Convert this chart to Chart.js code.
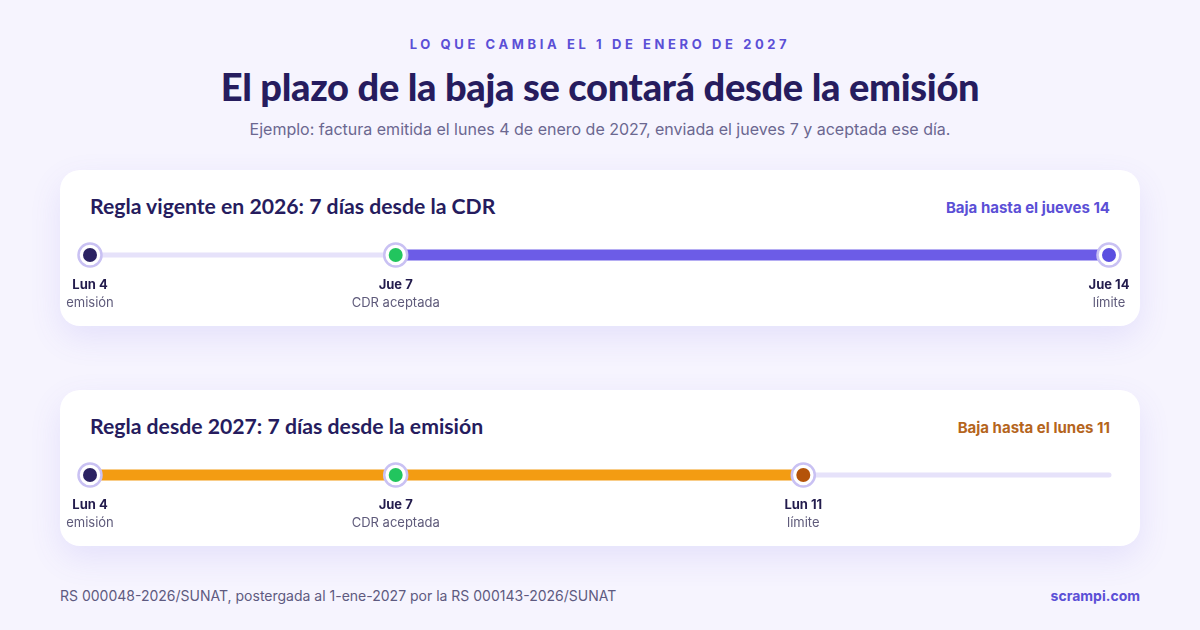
<!DOCTYPE html>
<html lang="es">
<head>
<meta charset="utf-8">
<title>El plazo de la baja</title>
<script src="https://cdn.jsdelivr.net/npm/chart.js@4"></script>
<style>
  html, body { margin: 0; padding: 0; }
  body {
    width: 1200px; height: 630px; overflow: hidden; position: relative;
    background: #f6f4fe; font-family: Inter, "Noto Sans", sans-serif;
  }
  .eyebrow {
    position: absolute; top: 36px; left: 0; width: 1200px; text-align: center;
    font: 700 13px Inter, sans-serif; letter-spacing: 3.6px; color: #5b4fd6;
  }
  h1 {
    position: absolute; top: 63px; left: 0; width: 1200px; margin: 0; text-align: center;
    font: 900 38px Lato, sans-serif; color: #261c5e; letter-spacing: -0.3px;
  }
  .sub {
    position: absolute; top: 119px; left: 0; width: 1200px; text-align: center;
    font: 400 16px Inter, sans-serif; color: #6b6790;
  }
  .card {
    position: absolute; left: 60px; width: 1080px; height: 156px;
    background: #fff; border-radius: 20px;
    box-shadow: 0 12px 32px rgba(108, 92, 231, 0.12);
  }
  .card h2 {
    position: absolute; left: 30px; top: 23px; margin: 0;
    font: 700 21.2px Lato, sans-serif; color: #261c5e;
  }
  .card .tag {
    position: absolute; right: 30px; top: 28px;
    font: 700 15px Inter, sans-serif;
  }
  .card canvas { position: absolute; left: 0; top: 0; }
  .foot {
    position: absolute; top: 587px; left: 60px;
    font: 400 14px Inter, sans-serif; color: #5e5a80;
  }
  .brand {
    position: absolute; top: 587px; right: 60px;
    font: 700 14px Inter, sans-serif; color: #5b4fd6;
  }
</style>
</head>
<body>
<div class="eyebrow">LO QUE CAMBIA EL 1 DE ENERO DE 2027</div>
<h1>El plazo de la baja se contará desde la emisión</h1>
<div class="sub">Ejemplo: factura emitida el lunes 4 de enero de 2027, enviada el jueves 7 y aceptada ese día.</div>

<div class="card" style="top:170px">
  <h2>Regla vigente en 2026: 7 días desde la CDR</h2>
  <div class="tag" style="color:#5b4fd6">Baja hasta el jueves 14</div>
  <canvas id="chart2026" width="1080" height="156"></canvas>
</div>

<div class="card" style="top:390px">
  <h2>Regla desde 2027: 7 días desde la emisión</h2>
  <div class="tag" style="color:#b5651d">Baja hasta el lunes 11</div>
  <canvas id="chart2027" width="1080" height="156"></canvas>
</div>

<div class="foot">RS 000048-2026/SUNAT, postergada al 1-ene-2027 por la RS 000143-2026/SUNAT</div>
<div class="brand">scrampi.com</div>

<script>
// timeline range (days of January 2027)
const rangeDays = [4, 14];

// rule in force in 2026: counted from CDR
const days2026 = [4, 7, 14];
const names2026 = ['Lun 4', 'Jue 7', 'Jue 14'];
const roles2026 = ['emisión', 'CDR aceptada', 'límite'];
const dots2026 = ['#2b2262', '#22c55e', '#5b4fe0'];
const span2026 = [7, 14];

// rule from 2027: counted from emission
const days2027 = [4, 7, 11];
const names2027 = ['Lun 4', 'Jue 7', 'Lun 11'];
const roles2027 = ['emisión', 'CDR aceptada', 'límite'];
const dots2027 = ['#2b2262', '#22c55e', '#b45309'];
const span2027 = [4, 11];

// draws the two-line label under every milestone
const milestoneLabels = {
  id: 'milestoneLabels',
  afterDatasetsDraw(chart, args, opts) {
    const ctx = chart.ctx;
    const x = chart.scales.x;
    const y0 = chart.scales.y.getPixelForValue(0);
    ctx.save();
    ctx.textAlign = 'center';
    ctx.textBaseline = 'middle';
    opts.days.forEach((d, i) => {
      const px = x.getPixelForValue(d);
      ctx.font = '700 13px Inter, sans-serif';
      ctx.fillStyle = '#231c4d';
      ctx.fillText(opts.names[i], px, y0 + 30);
      ctx.font = '400 13px Inter, sans-serif';
      ctx.fillStyle = '#5e5a7a';
      ctx.fillText(opts.roles[i], px, y0 + 48);
    });
    ctx.restore();
  }
};

function drawTimeline(id, days, names, roles, dots, span, spanColor) {
  new Chart(document.getElementById(id), {
    type: 'line',
    data: {
      datasets: [
        {
          // inner coloured dots
          data: days.map(d => ({ x: d, y: 0 })),
          showLine: false,
          pointRadius: 7,
          pointBackgroundColor: dots,
          pointBorderWidth: 0,
          order: 0
        },
        {
          // white rings
          data: days.map(d => ({ x: d, y: 0 })),
          showLine: false,
          pointRadius: 11.5,
          pointBackgroundColor: '#ffffff',
          pointBorderColor: '#c9c1f3',
          pointBorderWidth: 2.5,
          order: 1
        },
        {
          // counted period
          data: span.map(d => ({ x: d, y: 0 })),
          borderColor: spanColor,
          borderWidth: 11,
          pointRadius: 0,
          order: 2
        },
        {
          // full track
          data: rangeDays.map(d => ({ x: d, y: 0 })),
          borderColor: '#e6e2fa',
          borderWidth: 5,
          borderCapStyle: 'round',
          pointRadius: 0,
          order: 3
        }
      ]
    },
    options: {
      responsive: false,
      animation: false,
      clip: false,
      layout: { padding: { left: 30, right: 31, top: 60, bottom: 46 } },
      plugins: {
        legend: { display: false },
        tooltip: { enabled: false },
        milestoneLabels: { days, names, roles }
      },
      scales: {
        x: { type: 'linear', min: rangeDays[0], max: rangeDays[1], display: false },
        y: { min: -1, max: 1, display: false }
      }
    },
    plugins: [milestoneLabels]
  });
}

drawTimeline('chart2026', days2026, names2026, roles2026, dots2026, span2026, '#6c5ce7');
drawTimeline('chart2027', days2027, names2027, roles2027, dots2027, span2027, '#f39c12');
</script>
</body>
</html>
